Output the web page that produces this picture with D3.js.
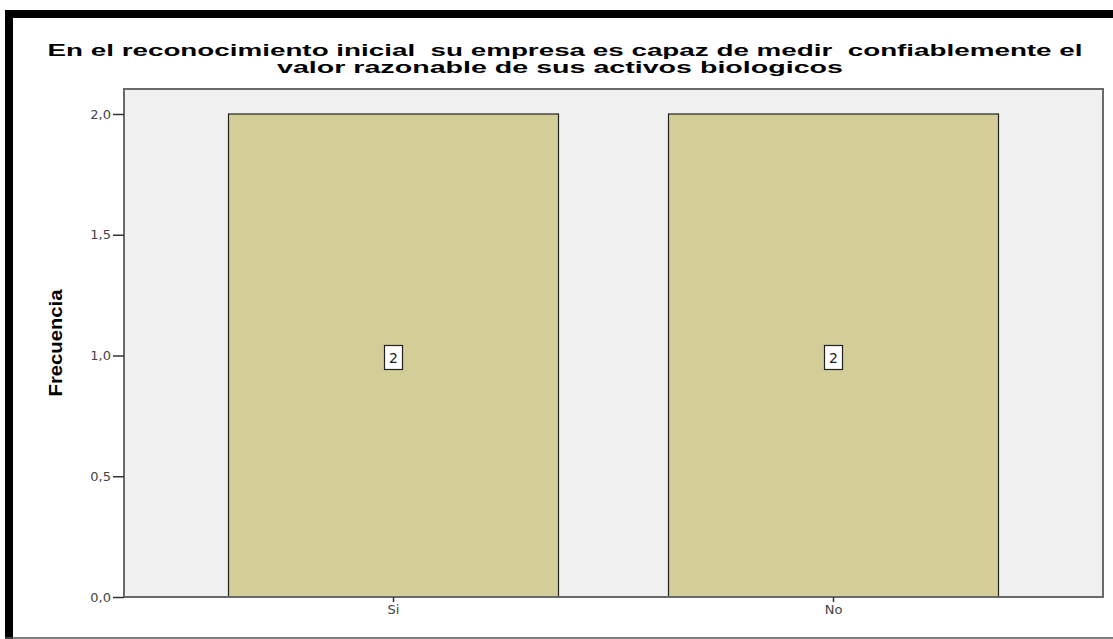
<!DOCTYPE html>
<html><head><meta charset="utf-8">
<script src="https://cdn.jsdelivr.net/npm/d3@7"></script>
<style>body{margin:0;background:#fff;}svg{display:block;} text{white-space:pre;}</style>
</head><body>
<script>
const categories = ["Si", "No"];
const frequencies = [2, 2];
const yTicks = [0, 0.5, 1.0, 1.5, 2.0];
const titleLines = ["En el reconocimiento inicial  su empresa es capaz de medir  confiablemente el", "valor razonable de sus activos biologicos"];
const yTitle = "Frecuencia";

const W = 1113, H = 639;
const svg = d3.select("body").append("svg").attr("width", W).attr("height", H);

// outer frame
svg.append("rect").attr("x", 5).attr("y", 10).attr("width", W - 5).attr("height", 8).attr("fill", "#000");
svg.append("rect").attr("x", 5).attr("y", 10).attr("width", 8).attr("height", H - 10).attr("fill", "#000");
svg.append("line").attr("x1", 5).attr("x2", W).attr("y1", 638).attr("y2", 638).attr("stroke", "#555").attr("stroke-width", 1.5);

const plot = {left: 124, right: 1103, top: 89, bottom: 597};
const x = d3.scaleBand().domain(categories).range([plot.left, plot.right]).paddingInner(0.25).paddingOuter(0.2375);
const y = d3.scaleLinear().domain([0, 2.1035]).range([plot.bottom, plot.top]);

svg.append("rect").attr("x", plot.left).attr("y", plot.top)
  .attr("width", plot.right - plot.left).attr("height", plot.bottom - plot.top)
  .attr("fill", "#f0f0f0");

svg.selectAll("rect.bar").data(categories).enter().append("rect").attr("class", "bar")
  .attr("x", d => x(d)).attr("width", x.bandwidth())
  .attr("y", (d, i) => y(frequencies[i])).attr("height", (d, i) => y(0) - y(frequencies[i]))
  .attr("fill", "#d3ce98").attr("stroke", "#222").attr("stroke-width", 1.2);

// plot frame
svg.append("rect").attr("x", plot.left).attr("y", plot.top)
  .attr("width", plot.right - plot.left).attr("height", plot.bottom - plot.top)
  .attr("fill", "none").attr("stroke", "#6a6a6a").attr("stroke-width", 2);

// y axis
const yAxis = d3.axisLeft(y).tickValues(yTicks).tickSize(11).tickPadding(2)
  .tickFormat(d => d3.format(".1f")(d).replace(".", ","));
const ga = svg.append("g").attr("transform", `translate(${plot.left},0)`).call(yAxis);
ga.select(".domain").remove();
ga.selectAll(".tick line").attr("stroke", "#333").attr("stroke-width", 1.5);
ga.selectAll(".tick text").attr("fill", "#444").style("font-family", "'DejaVu Sans', sans-serif").style("font-size", "13px");

// x axis
const xAxis = d3.axisBottom(x).tickSize(5).tickPadding(3);
const gx = svg.append("g").attr("transform", `translate(0,${plot.bottom})`).call(xAxis);
gx.select(".domain").remove();
gx.selectAll(".tick line").attr("stroke", "#333").attr("stroke-width", 1.5);
gx.selectAll(".tick text").attr("fill", "#444").style("font-family", "'DejaVu Sans', sans-serif").style("font-size", "13px");

// value labels
const lab = svg.selectAll("g.lab").data(categories).enter().append("g").attr("class", "lab")
  .attr("transform", (d, i) => `translate(${x(d) + x.bandwidth() / 2},${y(frequencies[i] / 2) + 2})`);
lab.append("rect").attr("x", -9).attr("y", -12).attr("width", 18).attr("height", 24)
  .attr("fill", "#fff").attr("stroke", "#222").attr("stroke-width", 1.2);
lab.append("text").text((d, i) => frequencies[i]).attr("text-anchor", "middle").attr("dy", "0.36em")
  .style("font-family", "'DejaVu Sans', sans-serif").style("font-size", "14px").attr("fill", "#222");

// titles
svg.append("text").attr("x", 565).attr("y", 56).attr("text-anchor", "middle")
  .attr("textLength", 1035).attr("lengthAdjust", "spacingAndGlyphs")
  .style("font-family", "'Liberation Sans', Arial, sans-serif").style("font-weight", "bold").style("font-size", "17px")
  .text(titleLines[0]);
svg.append("text").attr("x", 560).attr("y", 73).attr("text-anchor", "middle")
  .attr("textLength", 566).attr("lengthAdjust", "spacingAndGlyphs")
  .style("font-family", "'Liberation Sans', Arial, sans-serif").style("font-weight", "bold").style("font-size", "17px")
  .text(titleLines[1]);

svg.append("text").attr("transform", "translate(62,343) rotate(-90)").attr("text-anchor", "middle")
  .attr("textLength", 107).attr("lengthAdjust", "spacingAndGlyphs")
  .style("font-family", "'Liberation Sans Narrow', 'Liberation Sans', sans-serif").style("font-weight", "bold").style("font-size", "18px")
  .text(yTitle);
</script>
</body></html>
